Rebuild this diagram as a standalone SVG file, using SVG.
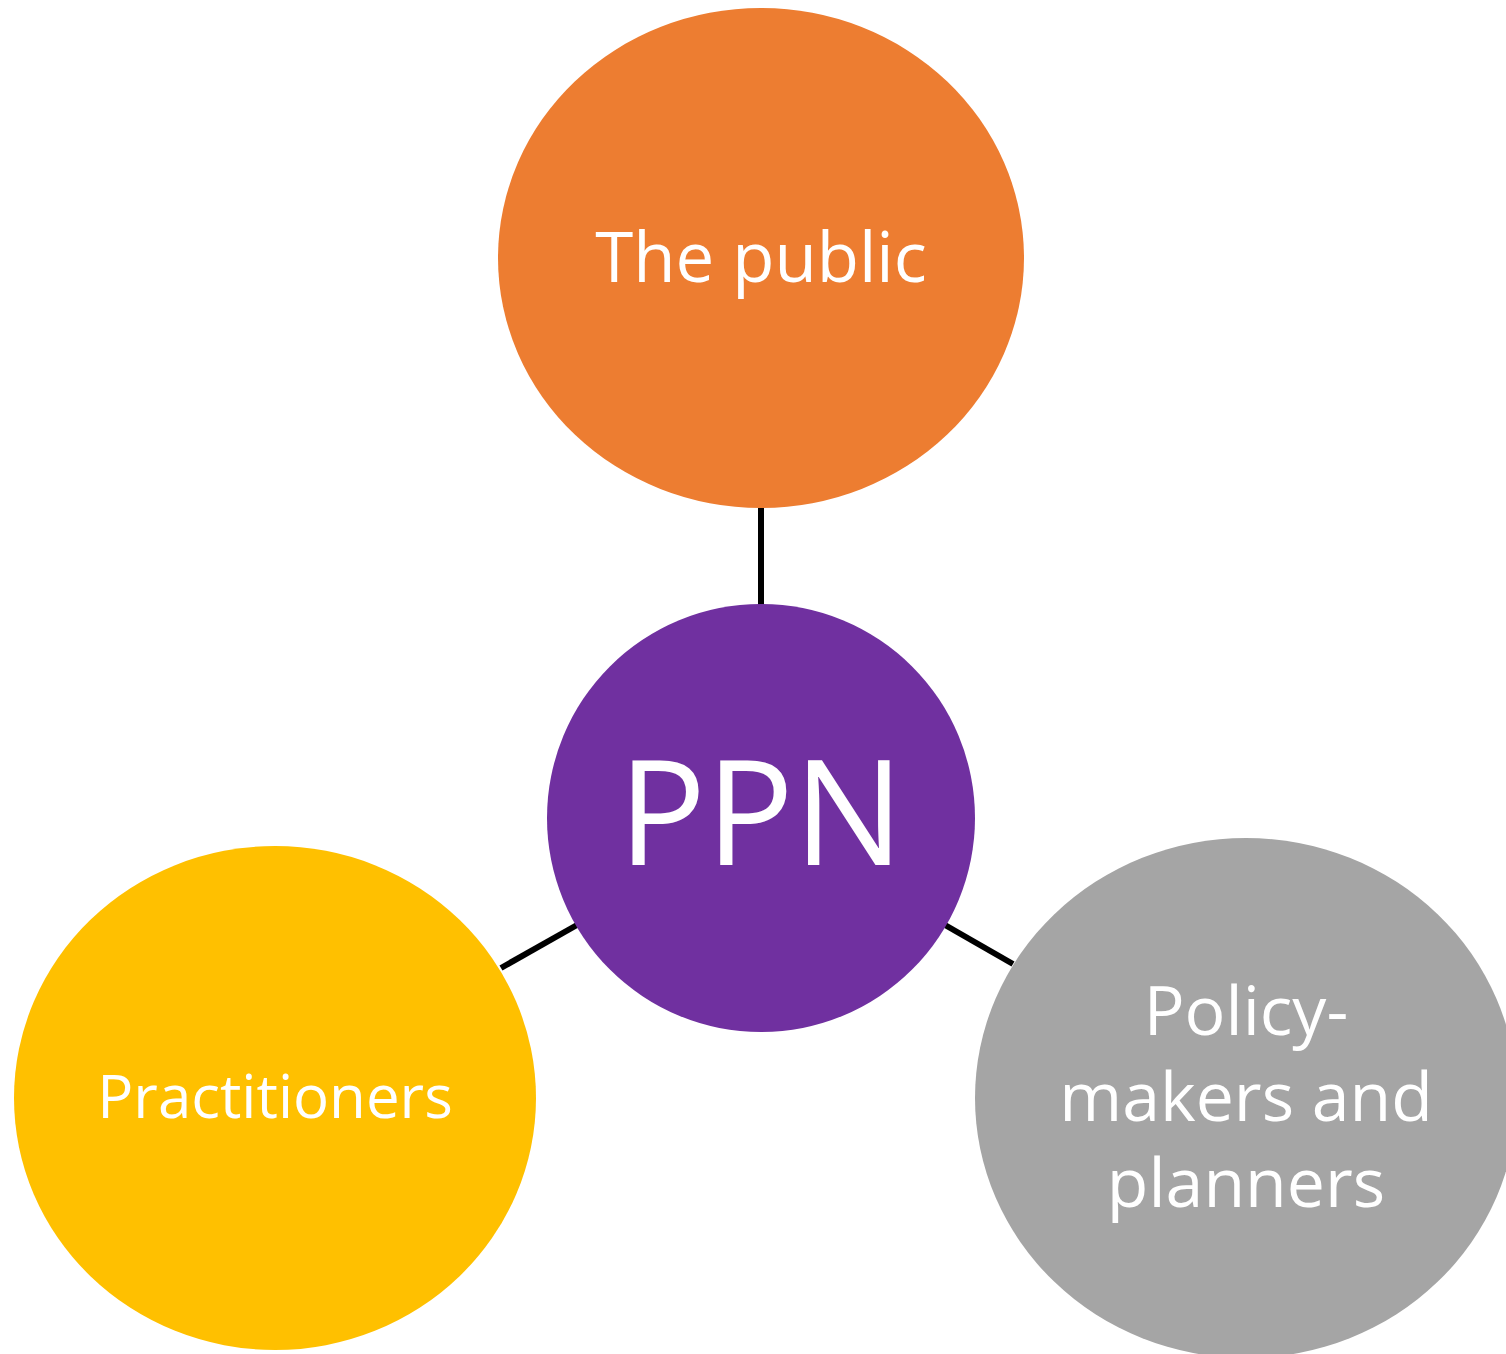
<svg xmlns="http://www.w3.org/2000/svg" width="1506" height="1354" viewBox="0 0 1506 1354">
<style>
.lbl{font-family:"Open Sans","Noto Sans","Liberation Sans",sans-serif;fill:#ffffff;text-anchor:middle}
.conn{stroke:#000000;stroke-width:6;fill:none}
</style>
<rect width="1506" height="1354" fill="#ffffff"/>
<g id="connectors">
<line class="conn" x1="761" y1="508" x2="761" y2="606"/>
<line class="conn" x1="501" y1="968" x2="577" y2="925"/>
<line class="conn" x1="945" y1="925" x2="1013" y2="964"/>
</g>
<g id="node-public">
<ellipse cx="761" cy="258" rx="263" ry="250" fill="#ed7d31"/>
<text class="lbl" x="761" y="282" font-size="69">The public</text>
</g>
<g id="node-ppn">
<ellipse cx="761" cy="818" rx="214" ry="214" fill="#7030a0"/>
<text class="lbl" x="761" y="865" font-size="146">PPN</text>
</g>
<g id="node-policy">
<ellipse cx="1246" cy="1098" rx="271" ry="260" fill="#a5a5a5"/>
<text class="lbl" x="1246" y="1035" font-size="68">Policy-</text>
<text class="lbl" x="1246" y="1121" font-size="68">makers and</text>
<text class="lbl" x="1246" y="1207" font-size="68">planners</text>
</g>
<g id="node-practitioners">
<ellipse cx="275" cy="1098" rx="261" ry="252" fill="#ffc000"/>
<text class="lbl" x="275" y="1118" font-size="60">Practitioners</text>
</g>
</svg>
